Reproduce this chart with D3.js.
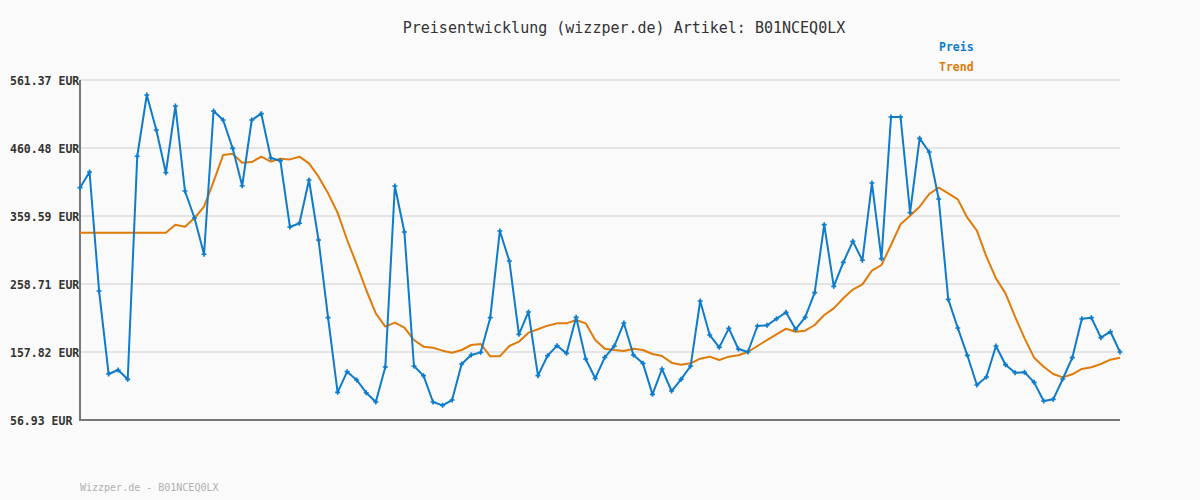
<!DOCTYPE html>
<html>
<head>
<meta charset="utf-8">
<script src="https://cdn.jsdelivr.net/npm/d3@7"></script>
<style>
  html, body { margin: 0; padding: 0; background: #fafafa; }
  svg { display: block; }
</style>
</head>
<body>
<svg id="chart" width="1200" height="500"></svg>
<script>
const titleText = "Preisentwicklung (wizzper.de) Artikel: B01NCEQ0LX";
const footerText = "Wizzper.de - B01NCEQ0LX";
const seriesNames = ["Preis", "Trend"];
const seriesColors = ["#0f7bcb", "#e07b0a"];

const priceValues = [
  401.6, 424.9, 248.3, 125.2, 131.1, 117.3, 448.2, 539.1, 487.2, 423.9,
  522.8, 396.7, 356.6, 302.8, 515.4, 502.0, 460.0, 404.5, 502.0, 511.4,
  445.6, 441.6, 343.3, 348.8, 413.0, 324.0, 208.7, 98.0, 128.6, 116.3,
  97.4, 83.6, 135.6, 404.1, 335.9, 137.0, 122.7, 83.6, 78.7, 86.6,
  140.0, 153.4, 157.3, 208.7, 337.3, 292.8, 184.0, 217.2, 122.7, 152.3,
  167.2, 155.8, 209.3, 147.4, 118.8, 149.9, 166.7, 200.8, 153.4, 141.0,
  95.0, 132.6, 99.9, 117.3, 137.0, 233.5, 183.0, 164.7, 192.9, 162.3,
  157.8, 196.4, 197.4, 207.2, 216.7, 191.5, 209.3, 245.8, 346.7, 255.3,
  290.9, 322.0, 293.9, 408.5, 296.3, 506.5, 506.5, 364.5, 474.8, 454.5,
  384.8, 235.9, 193.4, 152.9, 108.9, 120.7, 166.7, 139.0, 127.1, 127.7,
  112.8, 85.1, 87.6, 117.8, 149.4, 207.2, 208.7, 179.1, 187.9, 157.8
];

const trendValues = [
  334.8, 334.8, 334.8, 334.8, 334.8, 334.8, 334.8, 334.8, 334.8, 334.8,
  346.7, 343.7, 356.6, 373.4, 410.5, 450.1, 452.0, 438.7, 439.7, 447.6,
  440.2, 444.6, 443.6, 447.6, 437.7, 417.9, 393.2, 364.5, 324.0, 287.9,
  249.8, 215.2, 195.4, 201.4, 193.9, 175.6, 165.7, 164.2, 159.8, 156.8,
  160.8, 168.2, 169.7, 151.4, 151.4, 166.7, 173.1, 186.5, 191.5, 196.9,
  200.3, 200.3, 205.3, 200.3, 175.6, 162.7, 160.8, 159.3, 162.7, 160.8,
  154.8, 151.9, 142.0, 139.0, 141.0, 147.9, 150.9, 145.9, 150.9, 152.9,
  157.8, 166.7, 175.6, 184.0, 192.4, 187.9, 189.4, 197.9, 212.7, 222.6,
  237.5, 250.5, 258.2, 278.5, 286.9, 316.5, 347.2, 360.1, 373.4, 392.2,
  401.6, 393.2, 384.3, 357.1, 337.8, 299.2, 267.1, 244.8, 210.2, 178.1,
  149.4, 136.0, 125.2, 120.2, 124.7, 132.6, 135.1, 140.0, 146.4, 149.4
];

const yTickValues = [56.93, 157.82, 258.71, 359.59, 460.48, 561.37];
const yTickLabels = ["56.93 EUR", "157.82 EUR", "258.71 EUR", "359.59 EUR", "460.48 EUR", "561.37 EUR"];

(function () {
const svg = d3.select("#chart");
const mLeft = 80, mRight = 1120, mTop = 80, mBottom = 420;
const mono = "'DejaVu Sans Mono', 'Liberation Mono', monospace";

svg.append("rect").attr("width", 1200).attr("height", 500).attr("fill", "#fafafa");

const x = d3.scaleLinear().domain([0, priceValues.length - 1]).range([mLeft, mRight]);
const y = d3.scaleLinear().domain([yTickValues[0], yTickValues[yTickValues.length - 1]]).range([mBottom, mTop]);

// gridlines
svg.append("g")
  .selectAll("line")
  .data(yTickValues.slice(1))
  .join("line")
  .attr("x1", mLeft).attr("x2", mRight)
  .attr("y1", d => y(d)).attr("y2", d => y(d))
  .attr("stroke", "#e4e4e4").attr("stroke-width", 2);

// y axis labels (left-aligned at x = 10)
const yAxis = d3.axisLeft(y).tickValues(yTickValues)
  .tickFormat((d, i) => yTickLabels[i]).tickSize(0).tickPadding(0);
const yg = svg.append("g").attr("transform", `translate(${mLeft},0)`).call(yAxis);
yg.select(".domain").remove();
yg.selectAll("text")
  .attr("text-anchor", "start").attr("x", 10 - mLeft)
  .attr("font-family", mono).attr("font-size", "11.5px").attr("font-weight", "bold")
  .attr("fill", "#333").attr("dy", "0.4em");

// axes lines
svg.append("line").attr("x1", mLeft).attr("x2", mLeft).attr("y1", mTop).attr("y2", mBottom + 1)
  .attr("stroke", "#777").attr("stroke-width", 2);
svg.append("line").attr("x1", mLeft - 1).attr("x2", mRight).attr("y1", mBottom).attr("y2", mBottom)
  .attr("stroke", "#777").attr("stroke-width", 2);

const line = d3.line().x((d, i) => x(i)).y(d => y(d));

// trend line
svg.append("path").datum(trendValues)
  .attr("d", line).attr("fill", "none")
  .attr("stroke", seriesColors[1]).attr("stroke-width", 2).attr("stroke-linejoin", "round");

// price line
svg.append("path").datum(priceValues)
  .attr("d", line).attr("fill", "none")
  .attr("stroke", seriesColors[0]).attr("stroke-width", 2).attr("stroke-linejoin", "round");

// markers (small crosses)
const cross = d3.symbol().type(d3.symbolCross).size(14);
svg.append("g").selectAll("path")
  .data(priceValues)
  .join("path")
  .attr("transform", (d, i) => `translate(${x(i)},${y(d)})`)
  .attr("d", cross)
  .attr("fill", seriesColors[0]);

// title
svg.append("text").attr("x", 624).attr("y", 33).attr("text-anchor", "middle")
  .attr("font-family", mono).attr("font-size", "15px").attr("fill", "#333")
  .text(titleText);

// legend
svg.append("g").selectAll("text")
  .data(seriesNames)
  .join("text")
  .attr("x", 939).attr("y", (d, i) => 51 + i * 20)
  .attr("font-family", mono).attr("font-size", "11.5px").attr("font-weight", "bold")
  .attr("fill", (d, i) => seriesColors[i])
  .text(d => d);

// footer
svg.append("text").attr("x", 80).attr("y", 491)
  .attr("font-family", mono).attr("font-size", "10px").attr("fill", "#b0b0b0")
  .text(footerText);
})();
</script>
</body>
</html>
